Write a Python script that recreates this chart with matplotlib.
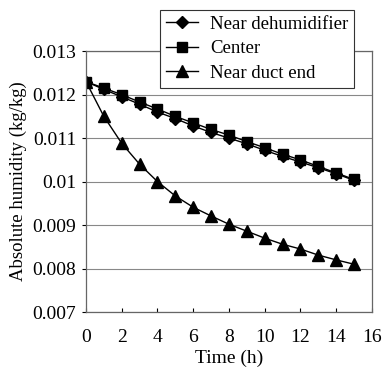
import matplotlib
matplotlib.use('Agg')
import matplotlib.pyplot as plt

# time (h)
hours = list(range(0, 16))
# absolute humidity (kg/kg)
near_dehumidifier = [0.0123, 0.01212, 0.01195, 0.01178, 0.0116, 0.01145, 0.01128, 0.01113,
                     0.0110, 0.01087, 0.01072, 0.01058, 0.01045, 0.01032, 0.01018, 0.01003]
center = [0.0123, 0.01215, 0.0120, 0.01183, 0.01167, 0.0115, 0.01135, 0.0112,
          0.01107, 0.01092, 0.01078, 0.01063, 0.0105, 0.01035, 0.0102, 0.01005]
near_duct_end = [0.0123, 0.0115, 0.01088, 0.0104, 0.0100, 0.00967, 0.00941, 0.00921,
                 0.00902, 0.00886, 0.0087, 0.00856, 0.00845, 0.00831, 0.0082, 0.0081]

xticks = [0, 2, 4, 6, 8, 10, 12, 14, 16]
yticks = [0.007, 0.008, 0.009, 0.01, 0.011, 0.012, 0.013]
ytick_labels = ['0.007', '0.008', '0.009', '0.01', '0.011', '0.012', '0.013']

plt.rcParams['font.family'] = ['Liberation Serif', 'DejaVu Serif']
plt.rcParams['font.size'] = 14

fig = plt.figure(figsize=(3.83, 3.68), dpi=100)
ax = fig.add_axes([0.2245, 0.152, 0.7465, 0.709])

ax.plot(hours, near_dehumidifier, color='black', lw=1, marker='D', ms=6, label='Near dehumidifier')
ax.plot(hours, center, color='black', lw=1, marker='s', ms=7, label='Center')
ax.plot(hours, near_duct_end, color='black', lw=1, marker='^', ms=8, label='Near duct end')

ax.set_xlim(0, 16)
ax.set_ylim(0.007, 0.013)
ax.set_xticks(xticks)
ax.set_yticks(yticks)
ax.set_yticklabels(ytick_labels)
ax.yaxis.grid(True, color='#888888', lw=0.8)
ax.set_axisbelow(True)
ax.tick_params(axis='x', direction='in', length=3, pad=12, labelsize=14)
ax.tick_params(axis='y', direction='out', length=3, pad=4, labelsize=14)
for s in ax.spines.values():
    s.set_color('#666666')
    s.set_linewidth(0.9)

ax.set_xlabel('Time (h)', labelpad=3, fontsize=14)
ax.set_ylabel('Absolute humidity (kg/kg)', labelpad=4, fontsize=13.5)

leg = ax.legend(loc='upper right', bbox_to_anchor=(0.924, 0.973), bbox_transform=fig.transFigure,
                fancybox=False, framealpha=1, edgecolor='#333333', borderpad=0.3,
                handlelength=1.7, handletextpad=0.65, labelspacing=0.4, borderaxespad=0,
                fontsize=13.5)
leg.get_frame().set_linewidth(0.8)

fig.savefig('out.png', dpi=100)
